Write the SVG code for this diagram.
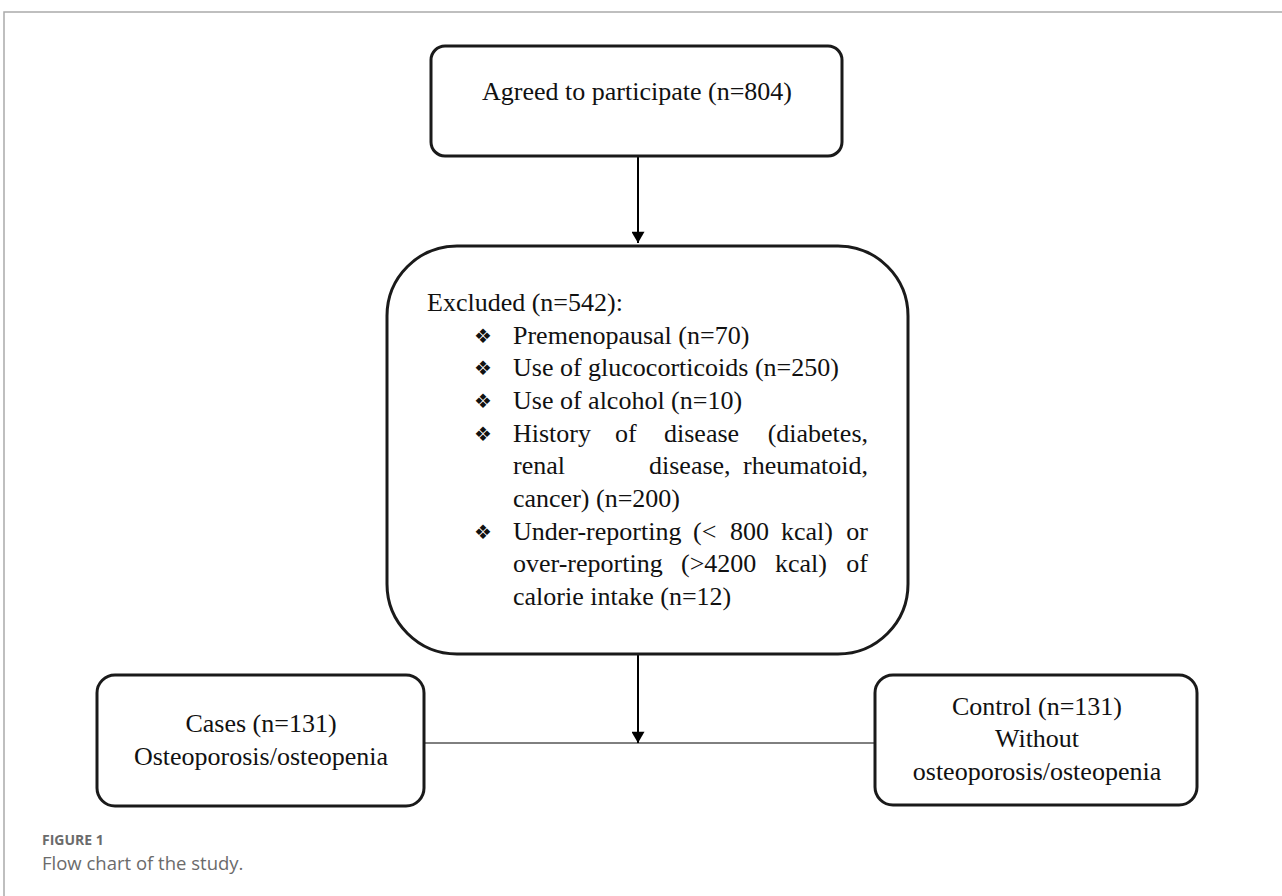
<svg xmlns="http://www.w3.org/2000/svg" width="1282" height="896" viewBox="0 0 1282 896">
<defs>
<style>
.box{fill:#fff;stroke:#1a1a1a;stroke-width:3}
.t{font-family:"Liberation Serif","Times New Roman",serif;font-size:26px;fill:#111}
.b{font-family:"DejaVu Sans",sans-serif;font-size:20px;fill:#111}
.c{text-anchor:middle}
.e{text-anchor:end}
.ln{stroke:#000;stroke-width:2;fill:none}
.cap1{font-family:"Open Sans","Lato",sans-serif;font-size:14px;font-weight:bold;fill:#6b6b6b}
.cap2{font-family:"Open Sans","Lato",sans-serif;font-size:18.5px;fill:#6b6b6b}
</style>
<marker id="ah" viewBox="0 0 12 14" refX="12" refY="7" markerWidth="14" markerHeight="13" markerUnits="userSpaceOnUse" orient="auto">
<path d="M0,0 L12,7 L0,14 z" fill="#000"/>
</marker>
</defs>
<rect width="1282" height="896" fill="#fff"/>
<path d="M4,896 V12 H1282" fill="none" stroke="#aaa" stroke-width="1.5"/>
<g id="connectors">
<line class="ln" x1="638" y1="156" x2="638" y2="243" marker-end="url(#ah)"/>
<line class="ln" x1="638" y1="655" x2="638" y2="743" marker-end="url(#ah)"/>
<line x1="424" y1="743" x2="875" y2="743" stroke="#000" stroke-width="1"/>
</g>
<g id="agreed">
<rect class="box" x="431" y="46" width="411" height="110" rx="14"/>
<text class="t c" x="637" y="100">Agreed to participate (n=804)</text>
</g>
<g id="excluded">
<rect class="box" x="387" y="246" width="521" height="408" rx="70"/>
<text class="t" x="427" y="311">Excluded (n=542):</text>
<g class="t">
<text class="b" x="474" y="343">❖</text><text x="513" y="344">Premenopausal (n=70)</text>
<text class="b" x="474" y="375">❖</text><text x="513" y="376">Use of glucocorticoids (n=250)</text>
<text class="b" x="474" y="408">❖</text><text x="513" y="409">Use of alcohol (n=10)</text>
<text class="b" x="474" y="441">❖</text><text x="513" y="442">History</text><text x="615" y="442">of</text><text x="664" y="442">disease</text><text class="e" x="868" y="442">(diabetes,</text>
<text x="513" y="474">renal</text><text x="649" y="474">disease,</text><text class="e" x="868" y="474">rheumatoid,</text>
<text x="513" y="507">cancer) (n=200)</text>
<text class="b" x="474" y="539">❖</text><text x="513" y="540">Under-reporting</text><text x="693" y="540">(&lt;</text><text x="730" y="540">800</text><text x="781" y="540">kcal)</text><text class="e" x="868" y="540">or</text>
<text x="513" y="572">over-reporting</text><text x="681" y="572">(&gt;4200</text><text x="775" y="572">kcal)</text><text class="e" x="868" y="572">of</text>
<text x="513" y="605">calorie intake (n=12)</text>
</g>
</g>
<g id="cases">
<rect class="box" x="97" y="675" width="327" height="131" rx="18"/>
<text class="t c" x="261" y="732">Cases (n=131)</text>
<text class="t c" x="261" y="765">Osteoporosis/osteopenia</text>
</g>
<g id="control">
<rect class="box" x="875" y="675" width="322" height="130" rx="18"/>
<text class="t c" x="1037" y="715">Control (n=131)</text>
<text class="t c" x="1037" y="747">Without</text>
<text class="t c" x="1037" y="780">osteoporosis/osteopenia</text>
</g>
<text class="cap1" x="42" y="845">FIGURE 1</text>
<text class="cap2" x="42" y="870">Flow chart of the study.</text>
</svg>
